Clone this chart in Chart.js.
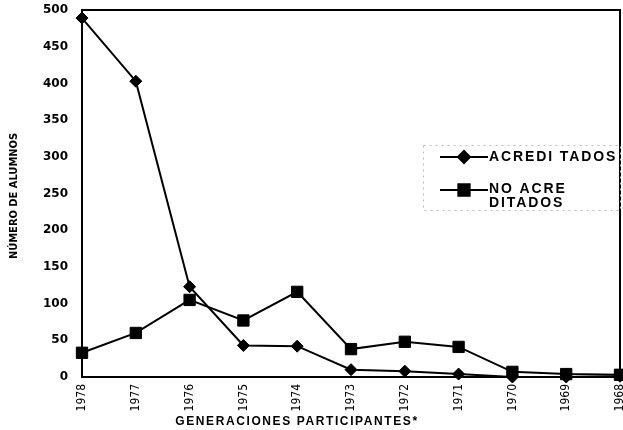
<!DOCTYPE html>
<html>
<head>
<meta charset="utf-8">
<script src="https://cdn.jsdelivr.net/npm/chart.js@4"></script>
<style>
  html, body { margin: 0; padding: 0; background: #fff; }
  #wrap { width: 623px; height: 430px; }
</style>
</head>
<body>
<div id="wrap"><canvas id="grafica" width="623" height="430"></canvas></div>
<script>
// datos
const anios = ['1978', '1977', '1976', '1975', '1974', '1973', '1972', '1971', '1970', '1969', '1968']
const acreditados = [489, 403, 123, 43, 42, 10, 8, 4, 0, 0, 1]
const noAcreditados = [33, 60, 105, 77, 116, 38, 48, 41, 7, 4, 3]
const ticksY = [0, 50, 100, 150, 200, 250, 300, 350, 400, 450, 500]

const tituloX = 'GENERACIONES PARTICIPANTES*'
const tituloY = 'NÚMERO DE ALUMNOS'
const leyenda = [
    { texto: ['ACREDI TADOS'], estilo: 'rectRot' },
    { texto: ['NO ACRE', 'DITADOS'], estilo: 'rect' }
]

const fuenteAncha = "'Liberation Sans', Arial, sans-serif"
const fuenteAngosta = "'Liberation Sans Narrow', 'DejaVu Sans Condensed', 'Liberation Sans', sans-serif"
const fuenteNumeros = "'DejaVu Sans', 'Liberation Sans', sans-serif"

// marco, titulos y leyenda dibujados a mano
const extras = {
    id: 'extras',
    afterDraw(chart) {
        const ctx = chart.ctx
        const a = chart.chartArea
        ctx.save()

        // marco superior y derecho
        ctx.strokeStyle = '#000'
        ctx.lineWidth = 2
        ctx.beginPath()
        ctx.moveTo(a.left, a.top)
        ctx.lineTo(a.right, a.top)
        ctx.lineTo(a.right, a.bottom)
        ctx.stroke()

        // titulo eje x
        ctx.fillStyle = '#000'
        ctx.font = "bold 12px " + fuenteAncha
        ctx.letterSpacing = '1.6px'
        ctx.textAlign = 'center'
        ctx.textBaseline = 'middle'
        ctx.fillText(tituloX, 297, 422)

        // titulo eje y
        ctx.letterSpacing = '0px'
        ctx.font = "bold 11px " + fuenteAngosta
        ctx.translate(14, 196)
        ctx.rotate(-Math.PI / 2)
        ctx.fillText(tituloY, 0, 0)
        ctx.setTransform(1, 0, 0, 1, 0, 0)

        // leyenda
        ctx.strokeStyle = '#bbb'
        ctx.lineWidth = 1
        ctx.setLineDash([2, 4])
        ctx.strokeRect(423.5, 145.5, 197, 65)
        ctx.setLineDash([])

        const filas = [157, 190]
        leyenda.forEach((item, i) => {
            const y = filas[i]
            ctx.strokeStyle = '#000'
            ctx.lineWidth = 2
            ctx.beginPath()
            ctx.moveTo(440, y)
            ctx.lineTo(488, y)
            ctx.stroke()
            ctx.fillStyle = '#000'
            Chart.helpers.drawPoint(ctx, { pointStyle: item.estilo, radius: item.estilo === 'rect' ? 8 : 6, borderWidth: 1 }, 464, y)
            ctx.fill()
            ctx.font = "bold 14px " + fuenteAncha
            ctx.letterSpacing = '1.9px'
            ctx.textAlign = 'left'
            ctx.textBaseline = 'middle'
            item.texto.forEach((t, j) => {
                ctx.fillText(t, 489, y - (item.texto.length > 1 ? 1 : 0) + j * 14)
            })
        })
        ctx.restore()
    }
}

new Chart(document.getElementById('grafica'), {
    type: 'line',
    data: {
        labels: anios,
        datasets: [
            {
                label: 'ACREDITADOS',
                data: acreditados,
                borderColor: '#000',
                backgroundColor: '#000',
                borderWidth: 2,
                pointStyle: 'rectRot',
                pointRadius: 6,
                pointBorderWidth: 1,
                tension: 0,
                clip: 10
            },
            {
                label: 'NO ACREDITADOS',
                data: noAcreditados,
                borderColor: '#000',
                backgroundColor: '#000',
                borderWidth: 2,
                pointStyle: 'rect',
                pointRadius: 8,
                pointBorderWidth: 1,
                tension: 0,
                clip: 10
            }
        ]
    },
    options: {
        responsive: false,
        animation: false,
        events: [],
        layout: { autoPadding: false, padding: { top: 10, right: 3, left: 0, bottom: 0 } },
        plugins: {
            legend: { display: false },
            title: { display: false },
            tooltip: { enabled: false }
        },
        scales: {
            x: {
                offset: false,
                grid: { display: false, drawTicks: false },
                border: { display: true, color: '#000', width: 2 },
                ticks: {
                    color: '#000',
                    font: { family: fuenteAngosta, size: 12 },
                    minRotation: 90,
                    maxRotation: 90,
                    padding: 7,
                    autoSkip: false
                },
                afterFit(scale) {
                    scale.height = 53
                    scale.paddingLeft = 0
                    scale.paddingRight = 0
                }
            },
            y: {
                min: 0,
                max: 500,
                grid: { display: false, drawTicks: false },
                border: { display: true, color: '#000', width: 2 },
                afterBuildTicks(scale) {
                    scale.ticks = ticksY.map(v => ({ value: v }))
                },
                ticks: {
                    color: '#000',
                    font: { family: fuenteNumeros, size: 12, weight: 'bold' },
                    padding: 14
                },
                afterFit(scale) {
                    scale.width = 82
                    scale.paddingTop = 0
                    scale.paddingBottom = 0
                }
            }
        }
    },
    plugins: [extras]
})
</script>
</body>
</html>
